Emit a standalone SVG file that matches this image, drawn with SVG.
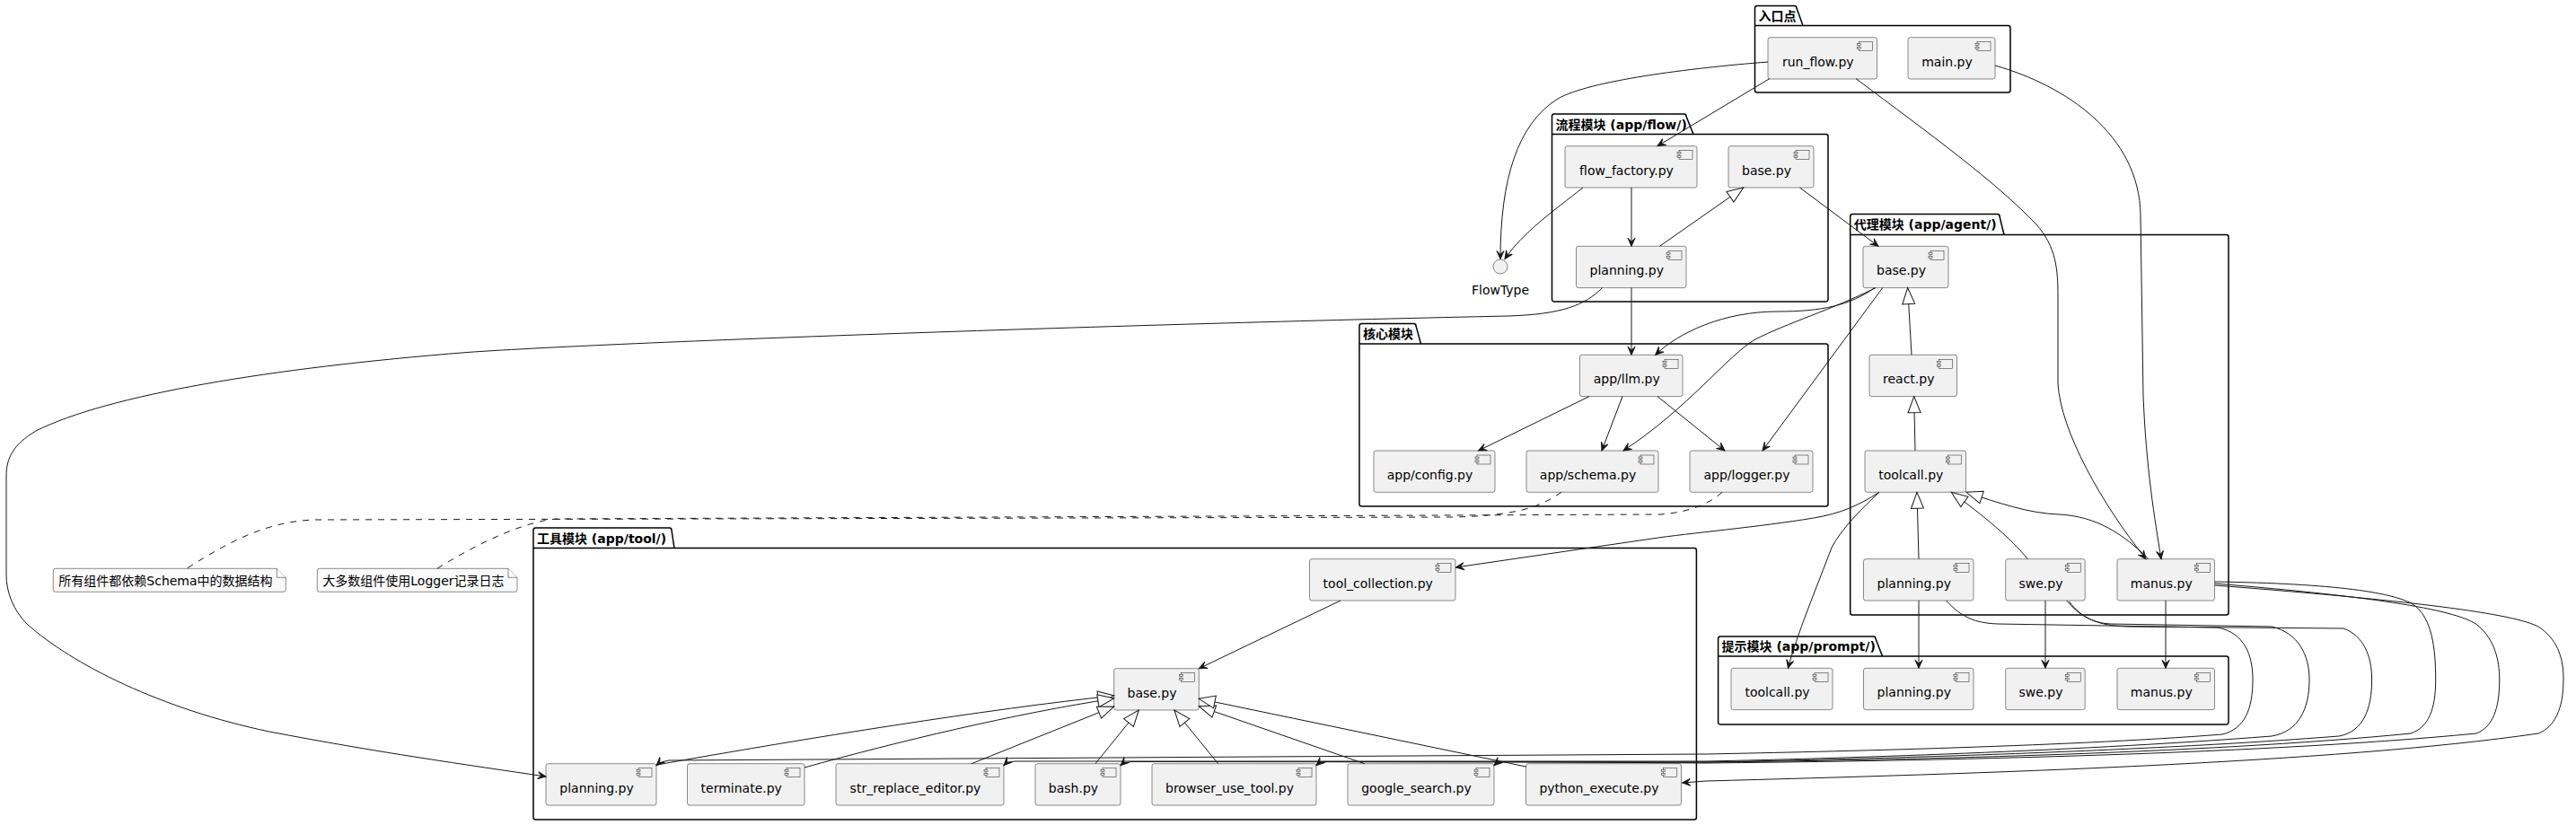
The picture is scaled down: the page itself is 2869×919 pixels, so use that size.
<svg xmlns="http://www.w3.org/2000/svg" width="2869" height="919" viewBox="0 0 2869 919">
<style>
.pkg{fill:none;stroke:#000;stroke-width:1.5}
.pkl{font-family:"DejaVu Sans","Noto Sans CJK SC",sans-serif;font-size:14px;font-weight:bold;fill:#000}
.box{fill:#F1F1F1;stroke:#181818;stroke-width:0.5}
.lbl{font-family:"DejaVu Sans","Noto Sans CJK SC",sans-serif;font-size:14px;fill:#000;text-anchor:middle}
.note{fill:#FAFAFA;stroke:#181818;stroke-width:0.5}
.ntx{font-family:"DejaVu Sans","Noto Sans CJK SC",sans-serif;font-size:14px;fill:#000}
.ln{fill:none;stroke:#181818;stroke-width:1}
.dep{marker-end:url(#arr)}
.inh{marker-end:url(#tri)}
.dash{stroke-dasharray:7,7}
</style>
<defs>
<marker id="arr" markerUnits="userSpaceOnUse" markerWidth="12" markerHeight="12" refX="10" refY="6" orient="auto" overflow="visible"><path d="M1,2 L10,6 L1,10 L5,6 Z" fill="#181818" stroke="#181818" stroke-width="1"/></marker>
<marker id="tri" markerUnits="userSpaceOnUse" markerWidth="22" markerHeight="18" refX="19" refY="8" orient="auto" overflow="visible"><path d="M1,1 L19,8 L1,15 Z" fill="#FFFFFF" stroke="#181818" stroke-width="1"/></marker>
<g id="ic"><rect class="box" x="-20" y="5" width="15" height="10"/><rect class="box" x="-22" y="7" width="4" height="2"/><rect class="box" x="-22" y="11" width="4" height="2"/></g>
</defs>
<rect width="2869" height="919" fill="#FFFFFF"/>

<g id="packages">
<g id="pkg_entry"><path class="pkg" d="M1954.5,100.5 L1954.5,9 A2.5,2.5 0 0 1 1957,6.5 L1998.5,6.5 A2.5,2.5 0 0 1 2001,9 L2008,28.5 L2236.5,28.5 A2.5,2.5 0 0 1 2239,31 L2239,100.5 A2.5,2.5 0 0 1 2236.5,103 L1957,103 A2.5,2.5 0 0 1 1954.5,100.5 Z M1954.5,28.5 L2008,28.5"/><text class="pkl" x="1958.5" y="23">入口点</text></g>
<g id="pkg_flow"><path class="pkg" d="M1728.5,333.5 L1728.5,129.5 A2.5,2.5 0 0 1 1731,127 L1875.5,127 A2.5,2.5 0 0 1 1878,129.5 L1886,149.5 L2033.5,149.5 A2.5,2.5 0 0 1 2036,152 L2036,333.5 A2.5,2.5 0 0 1 2033.5,336 L1731,336 A2.5,2.5 0 0 1 1728.5,333.5 Z M1728.5,149.5 L1886,149.5"/><text class="pkl" x="1732.5" y="143.5">流程模块 (app/flow/)</text></g>
<g id="pkg_agent"><path class="pkg" d="M2060.7,682.5 L2060.7,241 A2.5,2.5 0 0 1 2063.2,238.5 L2224.5,238.5 A2.5,2.5 0 0 1 2227,241 L2232,261.5 L2479.5,261.5 A2.5,2.5 0 0 1 2482,264 L2482,682.5 A2.5,2.5 0 0 1 2479.5,685 L2063.2,685 A2.5,2.5 0 0 1 2060.7,682.5 Z M2060.7,261.5 L2232,261.5"/><text class="pkl" x="2064.7" y="255">代理模块 (app/agent/)</text></g>
<g id="pkg_core"><path class="pkg" d="M1514,561.5 L1514,363 A2.5,2.5 0 0 1 1516.5,360.5 L1574.5,360.5 A2.5,2.5 0 0 1 1577,363 L1582.5,383 L2033.5,383 A2.5,2.5 0 0 1 2036,385.5 L2036,561.5 A2.5,2.5 0 0 1 2033.5,564 L1516.5,564 A2.5,2.5 0 0 1 1514,561.5 Z M1514,383 L1582.5,383"/><text class="pkl" x="1518" y="377">核心模块</text></g>
<g id="pkg_tool"><path class="pkg" d="M594,910.5 L594,590.5 A2.5,2.5 0 0 1 596.5,588 L745.5,588 A2.5,2.5 0 0 1 748,590.5 L751,610.5 L1886.9,610.5 A2.5,2.5 0 0 1 1889.4,613 L1889.4,910.5 A2.5,2.5 0 0 1 1886.9,913 L596.5,913 A2.5,2.5 0 0 1 594,910.5 Z M594,610.5 L751,610.5"/><text class="pkl" x="598" y="604.5">工具模块 (app/tool/)</text></g>
<g id="pkg_prompt"><path class="pkg" d="M1913.6,804.5 L1913.6,711.5 A2.5,2.5 0 0 1 1916.1,709 L2086.5,709 A2.5,2.5 0 0 1 2089,711.5 L2096.5,731 L2479.5,731 A2.5,2.5 0 0 1 2482,733.5 L2482,804.5 A2.5,2.5 0 0 1 2479.5,807 L1916.1,807 A2.5,2.5 0 0 1 1913.6,804.5 Z M1913.6,731 L2096.5,731"/><text class="pkl" x="1917.6" y="725">提示模块 (app/prompt/)</text></g>
</g>

<g id="nodes">
<g id="c_runflow"><rect class="box" x="1969" y="41.7" width="121.5" height="46.3" rx="2.5"/><use href="#ic" x="2090.5" y="41.7"/><text class="lbl" x="2024.75" y="73.7">run_flow.py</text></g>
<g id="c_main"><rect class="box" x="2125" y="41.7" width="97" height="46.3" rx="2.5"/><use href="#ic" x="2222" y="41.7"/><text class="lbl" x="2168.5" y="73.7">main.py</text></g>

<g id="f_factory"><rect class="box" x="1743" y="162.7" width="147" height="46.3" rx="2.5"/><use href="#ic" x="1890" y="162.7"/><text class="lbl" x="1811.5" y="194.7">flow_factory.py</text></g>
<g id="f_base"><rect class="box" x="1925" y="162.7" width="95" height="46.3" rx="2.5"/><use href="#ic" x="2020" y="162.7"/><text class="lbl" x="1967.5" y="194.7">base.py</text></g>
<g id="f_planning"><rect class="box" x="1755.5" y="274.3" width="122.5" height="46.3" rx="2.5"/><use href="#ic" x="1878" y="274.3"/><text class="lbl" x="1811.75" y="306.3">planning.py</text></g>
<g id="FlowType"><circle class="box" cx="1671" cy="297" r="8"/><text class="lbl" x="1671" y="328">FlowType</text></g>

<g id="a_base"><rect class="box" x="2075" y="274.3" width="95" height="46.3" rx="2.5"/><use href="#ic" x="2170" y="274.3"/><text class="lbl" x="2117.5" y="306.3">base.py</text></g>
<g id="a_react"><rect class="box" x="2082" y="395.3" width="97.5" height="46.3" rx="2.5"/><use href="#ic" x="2179.5" y="395.3"/><text class="lbl" x="2125.75" y="427.3">react.py</text></g>
<g id="a_toolcall"><rect class="box" x="2077" y="502" width="112.5" height="46.3" rx="2.5"/><use href="#ic" x="2189.5" y="502"/><text class="lbl" x="2128.25" y="534">toolcall.py</text></g>
<g id="a_planning"><rect class="box" x="2075.5" y="622.7" width="122.5" height="46.3" rx="2.5"/><use href="#ic" x="2198" y="622.7"/><text class="lbl" x="2131.75" y="654.7">planning.py</text></g>
<g id="a_swe"><rect class="box" x="2233.7" y="622.7" width="88.5" height="46.3" rx="2.5"/><use href="#ic" x="2322.2" y="622.7"/><text class="lbl" x="2272.95" y="654.7">swe.py</text></g>
<g id="a_manus"><rect class="box" x="2358" y="622.7" width="108.5" height="46.3" rx="2.5"/><use href="#ic" x="2466.5" y="622.7"/><text class="lbl" x="2407.25" y="654.7">manus.py</text></g>

<g id="k_llm"><rect class="box" x="1759.5" y="395.3" width="114.5" height="46.3" rx="2.5"/><use href="#ic" x="1874" y="395.3"/><text class="lbl" x="1811.75" y="427.3">app/llm.py</text></g>
<g id="k_config"><rect class="box" x="1530" y="502" width="135" height="46.3" rx="2.5"/><use href="#ic" x="1665" y="502"/><text class="lbl" x="1592.5" y="534">app/config.py</text></g>
<g id="k_schema"><rect class="box" x="1700" y="502" width="147" height="46.3" rx="2.5"/><use href="#ic" x="1847" y="502"/><text class="lbl" x="1768.5" y="534">app/schema.py</text></g>
<g id="k_logger"><rect class="box" x="1882" y="502" width="137" height="46.3" rx="2.5"/><use href="#ic" x="2019" y="502"/><text class="lbl" x="1945.5" y="534">app/logger.py</text></g>

<g id="p_toolcall"><rect class="box" x="1928" y="744.3" width="113" height="46.3" rx="2.5"/><use href="#ic" x="2041" y="744.3"/><text class="lbl" x="1979.5" y="776.3">toolcall.py</text></g>
<g id="p_planning"><rect class="box" x="2075.5" y="744.3" width="122.5" height="46.3" rx="2.5"/><use href="#ic" x="2198" y="744.3"/><text class="lbl" x="2131.75" y="776.3">planning.py</text></g>
<g id="p_swe"><rect class="box" x="2233.7" y="744.3" width="88.5" height="46.3" rx="2.5"/><use href="#ic" x="2322.2" y="744.3"/><text class="lbl" x="2272.95" y="776.3">swe.py</text></g>
<g id="p_manus"><rect class="box" x="2358" y="744.3" width="108.5" height="46.3" rx="2.5"/><use href="#ic" x="2466.5" y="744.3"/><text class="lbl" x="2407.25" y="776.3">manus.py</text></g>

<g id="t_collection"><rect class="box" x="1458.5" y="622.7" width="162.5" height="46.3" rx="2.5"/><use href="#ic" x="1621" y="622.7"/><text class="lbl" x="1534.75" y="654.7">tool_collection.py</text></g>
<g id="t_base"><rect class="box" x="1240.7" y="744.7" width="94.6" height="46.3" rx="2.5"/><use href="#ic" x="1335.3" y="744.7"/><text class="lbl" x="1283" y="776.7">base.py</text></g>
<g id="t_planning"><rect class="box" x="608" y="850.7" width="123" height="46.3" rx="2.5"/><use href="#ic" x="731" y="850.7"/><text class="lbl" x="664.5" y="882.7">planning.py</text></g>
<g id="t_terminate"><rect class="box" x="765.5" y="850.7" width="130.5" height="46.3" rx="2.5"/><use href="#ic" x="896" y="850.7"/><text class="lbl" x="825.75" y="882.7">terminate.py</text></g>
<g id="t_str"><rect class="box" x="931" y="850.7" width="187" height="46.3" rx="2.5"/><use href="#ic" x="1118" y="850.7"/><text class="lbl" x="1019.5" y="882.7">str_replace_editor.py</text></g>
<g id="t_bash"><rect class="box" x="1153" y="850.7" width="95" height="46.3" rx="2.5"/><use href="#ic" x="1248" y="850.7"/><text class="lbl" x="1195.5" y="882.7">bash.py</text></g>
<g id="t_browser"><rect class="box" x="1283" y="850.7" width="183" height="46.3" rx="2.5"/><use href="#ic" x="1466" y="850.7"/><text class="lbl" x="1369.5" y="882.7">browser_use_tool.py</text></g>
<g id="t_google"><rect class="box" x="1501" y="850.7" width="163" height="46.3" rx="2.5"/><use href="#ic" x="1664" y="850.7"/><text class="lbl" x="1577.5" y="882.7">google_search.py</text></g>
<g id="t_python"><rect class="box" x="1699.5" y="850.7" width="173" height="46.3" rx="2.5"/><use href="#ic" x="1872.5" y="850.7"/><text class="lbl" x="1781" y="882.7">python_execute.py</text></g>

<g id="note_schema"><path class="note" d="M59.3,635.8 A2.5,2.5 0 0 1 61.8,633.3 L308.3,633.3 L318.3,643.3 L318.3,656.8 A2.5,2.5 0 0 1 315.8,659.3 L61.8,659.3 A2.5,2.5 0 0 1 59.3,656.8 Z"/><path class="note" d="M308.3,633.3 L308.3,643.3 L318.3,643.3"/><text class="ntx" x="65.3" y="651.5">所有组件都依赖Schema中的数据结构</text></g>
<g id="note_logger"><path class="note" d="M353.3,635.8 A2.5,2.5 0 0 1 355.8,633.3 L566,633.3 L576,643.3 L576,656.8 A2.5,2.5 0 0 1 573.5,659.3 L355.8,659.3 A2.5,2.5 0 0 1 353.3,656.8 Z"/><path class="note" d="M566,633.3 L566,643.3 L576,643.3"/><text class="ntx" x="359.3" y="651.5">大多数组件使用Logger记录日志</text></g>
</g>

<g id="connectors">
<path class="ln dep" d="M1969,69 C1880,76 1770,90 1735,110 C1690,138 1671,200 1671,288.5"/>
<path class="ln dep" d="M1971,87.5 L1846,162.7"/>
<path class="ln dep" d="M2067,87.5 C2150,150 2220,200 2268,250 C2290,275 2292,300 2292,330 L2292,427 C2295,480 2340,560 2390,622.7"/>
<path class="ln dep" d="M2222,73 C2300,95 2383,150 2384,240 L2387,440 C2390,520 2400,580 2407,622.7"/>
<path class="ln dep" d="M1763,209 C1730,235 1695,260 1676,288.5"/>
<path class="ln dep" d="M1817,209 L1817,274.3"/>
<path class="ln inh" d="M1848.4,274.3 L1941.7,209"/>
<path class="ln dep" d="M2004.5,209 L2092,274.3"/>
<path class="ln dep" d="M1817,320.6 L1817,395.3"/>
<path class="ln dep" d="M1784.6,320.6 C1765,340 1740,350 1680,352 C1300,360 700,380 520,392.5 C300,410 120,440 40,480 C15,495 7,510 7,530 L7,640 C7,660 15,680 30,695 C80,740 180,790 300,815 C420,838 520,852 608,865"/>
<path class="ln dep" d="M2088,320.6 C2060,340 2030,347 1980,347 C1920,347 1870,370 1843.7,395.3"/>
<path class="ln dep" d="M2089,320.6 C2040,345 1990,360 1955,378 C1925,395 1880,455 1808,502"/>
<path class="ln dep" d="M2096.7,320.6 L1963,502"/>
<path class="ln dep" d="M1770,441.6 L1646.6,502"/>
<path class="ln dep" d="M1807,441.6 L1784,502"/>
<path class="ln dep" d="M1846,441.6 L1921,502"/>
<path class="ln dash" d="M1739,548.3 C1715,565 1690,574 1620,576 L350,579 C300,581 260,600 208,633.3"/>
<path class="ln dash" d="M1918,548.3 C1905,560 1885,570 1850,573 L620,578 C590,580 540,600 487,633.3"/>
<path class="ln inh" d="M2129,395.3 L2124.7,320.6"/>
<path class="ln inh" d="M2133,502 L2131.7,441.6"/>
<path class="ln inh" d="M2137,622.7 L2135,548.3"/>
<path class="ln inh" d="M2258.3,622.7 C2240,600 2210,575 2173.3,548.3"/>
<path class="ln inh" d="M2393,622.7 C2365,595 2335,575 2293,573 C2260,572 2225,560 2190,548.3"/>
<path class="ln dep" d="M2093,548.3 C2070,563 2050,572 2020,577 C1960,587 1880,594 1840,600 L1621.5,632"/>
<path class="ln dep" d="M2093,548.3 C2075,565 2050,590 2040,610 C2025,650 2000,710 1991.5,744.3"/>
<path class="ln dep" d="M2137,669 L2137,744.3"/>
<path class="ln dep" d="M2278,669 L2278,744.3"/>
<path class="ln dep" d="M2412,669 L2412,744.3"/>
<path class="ln dep" d="M2167.6,669 C2185,688 2200,694 2225,695 L2470,699 C2500,705 2509,730 2509,757 C2509,790 2500,812 2475,818 C2300,832 2000,838 1900,840 L745,847 Q736,848 731,852.6"/>
<path class="ln dep" d="M2301.7,669 C2315,685 2330,694 2350,695 L2530,698 C2560,705 2572,730 2572,757 C2572,790 2560,815 2530,820 C2300,838 2000,846 1900,848 L1130,848 Q1122,848.5 1118,852.6"/>
<path class="ln dep" d="M2304.5,670 C2318,688 2335,697 2370,698 L2610,700 C2632,708 2641.6,730 2641.6,757 C2641.6,790 2632,815 2605,820 C2350,840 2000,847 1900,849 L1260,848.5 Q1252,849 1248,852.6"/>
<path class="ln dep" d="M2466.5,648 C2600,650 2670,660 2690,675 C2708,690 2712.7,720 2712.7,757 C2712.7,790 2705,810 2685,817 C2450,840 2100,847 1900,849 L1478,848.5 Q1470,849 1466,852.6"/>
<path class="ln dep" d="M2466.5,650 C2650,665 2740,680 2760,697 C2778,712 2783.8,735 2783.8,757 C2783.8,790 2776,810 2758,817 C2500,842 2100,848 1900,850 L1676,848.5 Q1668,849 1664,852.6"/>
<path class="ln dep" d="M2466.5,652 C2700,670 2810,685 2830,700 C2850,715 2855,735 2855,757 C2855,790 2845,810 2827,817 C2600,850 2200,862 1900,870 L1873.6,872"/>
<path class="ln dep" d="M1493,669 L1335.3,744.7"/>
<path class="ln inh" d="M731.3,852 C900,822 1100,790 1240.7,775"/>
<path class="ln inh" d="M896,855 C1000,826 1130,795 1240.7,778"/>
<path class="ln inh" d="M1082,850.7 L1240.7,787"/>
<path class="ln inh" d="M1220,850.7 L1268.3,791"/>
<path class="ln inh" d="M1356.7,850.7 L1308,791"/>
<path class="ln inh" d="M1519.7,850.7 L1335.3,786.7"/>
<path class="ln inh" d="M1699.6,854 L1335.3,778.3"/>
</g>
</svg>
